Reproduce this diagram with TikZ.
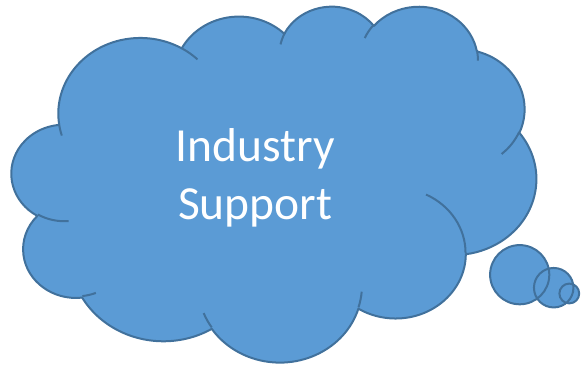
\documentclass[tikz,border=0pt]{standalone}
\usepackage{fontspec}
\setmainfont{Carlito}
\makeatletter
\pgfmathdeclarefunction{oodev}{3}{%
  \begingroup
  \pgfmathparse{mod(atan2((#1)*sin(#3),(#2)*cos(#3))-(#3)+540,360)-180}%
  \pgfmath@smuggleone\pgfmathresult
  \endgroup}
\makeatother
\definecolor{cloudfillc}{HTML}{5B9BD5}
\definecolor{cloudlinec}{HTML}{41719C}
\tikzset{
  ooarc/.style n args={4}{x radius={#1}, y radius={#2},
    start angle={(#3)+oodev(#1,#2,#3)},
    delta angle={(#4)+oodev(#1,#2,(#3)+(#4))-oodev(#1,#2,#3)}},
  cloudshape/.style={fill=cloudfillc, draw=cloudlinec, line width=2pt, line join=round},
  cloudline/.style={draw=cloudlinec, line width=2pt, line cap=butt},
  cloudtext/.style={text=white, inner sep=0pt, anchor=base,
    font=\fontsize{47.5}{57}\selectfont},
}
\begin{document}
\begin{tikzpicture}[x=1pt, y=-1pt]
\useasboundingbox (0,0) rectangle (583,366);
% thought bubbles
\fill[cloudfillc] (519.7,274.7) circle[radius=29.6]
                  (553.7,287.7) circle[radius=19.75]
                  (569.3,293.5) circle[radius=9.9];
\draw[cloudline] (519.7,274.7) circle[radius=29.6]
                 (553.7,287.7) circle[radius=19.75]
                 (569.3,293.5) circle[radius=9.9];
\begin{scope}[shift={(11.7pt,-5.5pt)}, x=12.141pt, y=-8.236pt]
\path[cloudshape] (3.900,14.370)
  arc[ooarc={6.753}{9.190}{-190.4875}{123.7805}]
  arc[ooarc={5.333}{7.267}{-144.1024}{89.9452}]
  arc[ooarc={4.365}{5.945}{-145.8079}{99.7230}]
  arc[ooarc={4.857}{6.595}{-130.9861}{117.2417}]
  arc[ooarc={5.333}{7.273}{-78.7089}{109.0269}]
  arc[ooarc={6.775}{9.220}{-46.2673}{130.2690}]
  arc[ooarc={5.785}{7.867}{0.6250}{114.0333}]
  arc[ooarc={6.752}{9.215}{22.4516}{115.1726}]
  arc[ooarc={7.720}{10.543}{66.2426}{75.7110}]
  arc[ooarc={4.360}{5.918}{-274.9421}{146.7356}]
  arc[ooarc={4.345}{5.945}{-246.8285}{152.5189}]
  -- cycle;
\draw[cloudline]
  (4.693,26.177) arc[ooarc={4.345}{5.945}{86.7420}{26.4295}]
  (6.928,34.899) arc[ooarc={4.360}{5.918}{73.6105}{11.4475}]
  (16.478,39.090) arc[ooarc={6.752}{9.215}{137.6242}{14.0811}]
  (28.827,34.751) arc[ooarc={6.752}{9.215}{6.4533}{15.9984}]
  (34.129,22.954) arc[ooarc={5.785}{7.867}{-70.2924}{70.9174}]
  (41.798,15.354) arc[ooarc={5.333}{7.273}{30.3180}{27.7515}]
  (38.324,5.426) arc[ooarc={4.857}{6.595}{-13.7443}{14.8589}]
  (29.078,3.952) arc[ooarc={4.857}{6.595}{-149.1815}{18.1954}]
  (22.141,4.720) arc[ooarc={4.365}{5.945}{-163.4943}{17.6864}]
  (14.000,5.192) arc[ooarc={6.753}{9.190}{-66.7070}{12.3194}]
  (4.127,15.789) arc[ooarc={6.753}{9.190}{157.6544}{11.8582}];
\end{scope}
\node[cloudtext] (line1) at (255.2,161.7) {Industry};
\node[cloudtext] (line2) at (255.2,219.5) {Support};
\end{tikzpicture}
\end{document}
